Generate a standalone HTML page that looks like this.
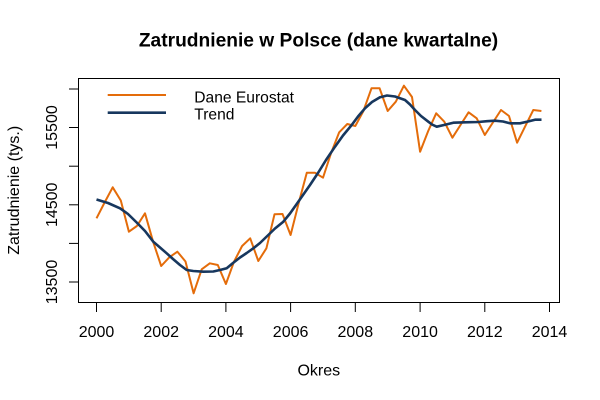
<!DOCTYPE html>
<html>
<head>
<meta charset="utf-8">
<style>
html,body{margin:0;padding:0;background:#fff;}
svg{display:block;}
text{font-family:"Liberation Sans",Arial,sans-serif;fill:#000;}
</style>
</head>
<body>
<svg width="600" height="400" viewBox="0 0 600 400" xmlns="http://www.w3.org/2000/svg">
<rect x="0" y="0" width="600" height="400" fill="#fff"/>
<text x="318.5" y="46.5" font-size="19.2" font-weight="bold" text-anchor="middle">Zatrudnienie w Polsce (dane kwartalne)</text>

<!-- series -->
<polyline fill="none" stroke="#E46C0A" stroke-width="2" stroke-linejoin="round" points="
96.5,218.3 104.6,202.5 112.7,187.3 120.8,200.5 128.9,231.7 136.9,226 145.0,213.3 153.1,241.7
161.2,266 169.3,257.3 177.4,251.7 185.5,261.5 193.6,293.3 201.7,269.3 209.8,263.3 217.8,265
225.9,284 234.0,261.7 242.1,246 250.2,238.3 258.3,261 266.4,248.3 274.5,214.3 282.5,214
290.6,235 298.7,203 306.8,172.7 314.9,172.7 323.0,177.7 331.1,153 339.2,132.3 347.3,124
355.3,126 363.4,111 371.5,88.3 379.6,88.3 387.7,111 395.8,101.7 403.9,85.7 412.0,97
420.1,151.7 428.2,131 436.2,113.3 444.3,121.7 452.4,137.7 460.5,125 468.6,112.3 476.7,118.3
484.8,135 492.9,122.5 501.0,110 509.0,116 517.1,142.7 525.2,126.3 533.3,110 541.4,111"/>
<polyline fill="none" stroke="#17375E" stroke-width="2.6" stroke-linejoin="round" points="
96.5,199.5 108,203 120,208.3 128,214 136.7,222.5 145,231 153.3,241.7 160,247.5 166.7,253.3
173,259 180,265 186.7,270 193.3,271 203.3,271.7 213.3,271.5 220,270 226.7,268.3 233,263
240,257.5 246.7,253 253.3,248.3 260,243 268.3,235 275,228.5 283.3,221.7 290,213.5 296.7,204
303,195 310,185 318.3,172.5 326,160 335,146.7 343,135.5 351.7,125 358,116.5 365,108.3
372,102 380,97.3 387,95.5 395,96.5 405,100 410,104.5 415,110 421,116 428.3,121.7 432,124.5
436.7,126.7 444,125 453.3,122.7 465,122.3 478.3,122 487,121.2 495,120.7 503,121.5 510,123.3
520,123.3 528,121.5 535,119.7 541.5,119.7"/>

<!-- box -->
<rect x="78.5" y="78.5" width="481" height="224" fill="none" stroke="#000" stroke-width="1"/>

<!-- x axis ticks -->
<g stroke="#000" stroke-width="1">
<line x1="96.5" y1="302.5" x2="96.5" y2="312"/>
<line x1="161.2" y1="302.5" x2="161.2" y2="312"/>
<line x1="225.9" y1="302.5" x2="225.9" y2="312"/>
<line x1="290.6" y1="302.5" x2="290.6" y2="312"/>
<line x1="355.3" y1="302.5" x2="355.3" y2="312"/>
<line x1="420.1" y1="302.5" x2="420.1" y2="312"/>
<line x1="484.8" y1="302.5" x2="484.8" y2="312"/>
<line x1="549.5" y1="302.5" x2="549.5" y2="312"/>
<!-- y ticks -->
<line x1="69" y1="89" x2="78.5" y2="89"/>
<line x1="69" y1="127.5" x2="78.5" y2="127.5"/>
<line x1="69" y1="166.2" x2="78.5" y2="166.2"/>
<line x1="69" y1="204.8" x2="78.5" y2="204.8"/>
<line x1="69" y1="243.4" x2="78.5" y2="243.4"/>
<line x1="69" y1="282" x2="78.5" y2="282"/>
</g>

<g font-size="16" text-anchor="middle">
<text x="96.5" y="337">2000</text>
<text x="161.2" y="337">2002</text>
<text x="225.9" y="337">2004</text>
<text x="290.6" y="337">2006</text>
<text x="355.3" y="337">2008</text>
<text x="420.1" y="337">2010</text>
<text x="484.8" y="337">2012</text>
<text x="549.5" y="337">2014</text>
<text transform="translate(57,282) rotate(-90)">13500</text>
<text transform="translate(57,204.8) rotate(-90)">14500</text>
<text transform="translate(57,127.5) rotate(-90)">15500</text>
<text transform="translate(19,190.3) rotate(-90)">Zatrudnienie (tys.)</text>
<text x="318.8" y="375.5">Okres</text>
</g>

<!-- legend -->
<line x1="107.7" y1="95" x2="166" y2="95" stroke="#E46C0A" stroke-width="2"/>
<line x1="107.7" y1="112.7" x2="166" y2="112.7" stroke="#17375E" stroke-width="2.6"/>
<text x="194.3" y="102.7" font-size="15.6">Dane Eurostat</text>
<text x="194.3" y="119.3" font-size="15.6">Trend</text>
</svg>
</body>
</html>
